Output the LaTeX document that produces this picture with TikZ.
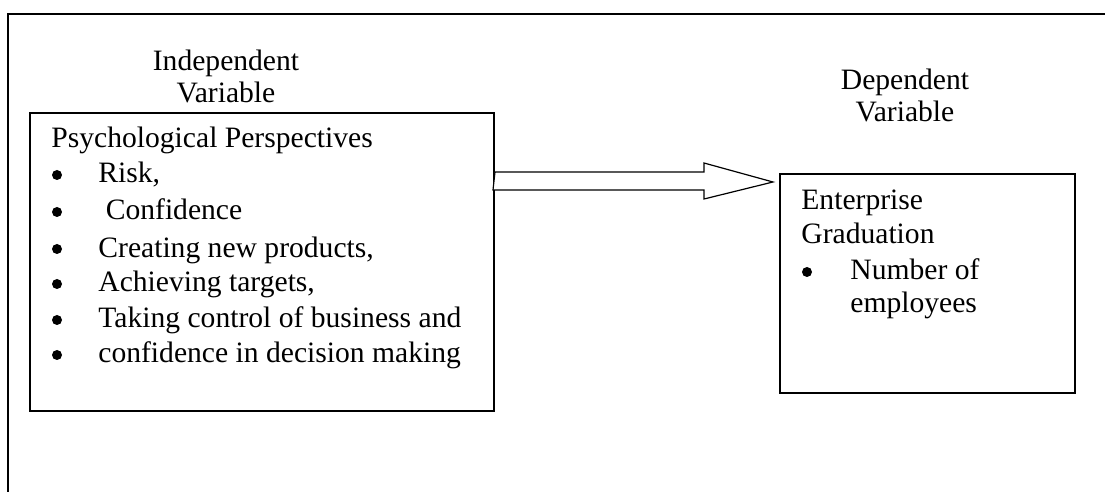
\documentclass[tikz,border=0pt]{standalone}
\usepackage{fontspec}
\setmainfont{Liberation Serif}
\begin{document}
\begin{tikzpicture}[x=0.5pt,y=-0.5pt,
  frameline/.style={line width=1pt},
  boxline/.style={draw,line width=1pt},
  txt/.style={anchor=base west,inner sep=0pt,font=\fontsize{14.8pt}{18pt}\selectfont},
  ctxt/.style={anchor=base,inner sep=0pt,font=\fontsize{14.8pt}{18pt}\selectfont},
  bul/.style={circle,fill=black,inner sep=0pt,minimum size=5pt},
  arrowline/.style={draw,line width=0.6pt,fill=white}]
\useasboundingbox (0,0) rectangle (1105,492);
% outer frame (open at right and bottom)
\draw[frameline] (8,492) -- (8,14) -- (1105,14);
% boxes
\node[boxline,rectangle,minimum width=232pt,minimum height=148.5pt,anchor=north west,inner sep=0pt] (ibox) at (29,112.5) {};
\node[boxline,rectangle,minimum width=147.5pt,minimum height=109.5pt,anchor=north west,inner sep=0pt] (dbox) at (779,173) {};
% headings
\node[ctxt] (ind1) at (226,71) {Independent};
\node[ctxt] (ind2) at (226,103) {Variable};
\node[ctxt] (dep1) at (905,90) {Dependent};
\node[ctxt] (dep2) at (905,122) {Variable};
% left box text
\node[txt] (pp) at (51,148) {Psychological Perspectives};
\foreach \y/\t [count=\i] in {183/{Risk,},220/{\ Confidence},257/{Creating new products,},292/{Achieving targets,},328/{Taking control of business and},363/{confidence in decision making}}{
  \node[bul] (ib\i) at (57,\y-8) {};
  \node[txt] (it\i) at (98,\y) {\t};
}
% right box text
\node[txt] (eg1) at (801,210) {Enterprise};
\node[txt] (eg2) at (801,244) {Graduation};
\node[bul] (db1) at (807,272) {};
\node[txt] (dt1) at (850,280) {Number of};
\node[txt] (dt2) at (850,313) {employees};
% block arrow
\coordinate (as) at (ibox.east |- 0,181);
\draw[arrowline] (as) ++(0,-9) -- (704,172) -- (704,163) -- (773,182) -- (704,199) -- (704,190) -- (493,190) -- cycle;
\end{tikzpicture}
\end{document}
